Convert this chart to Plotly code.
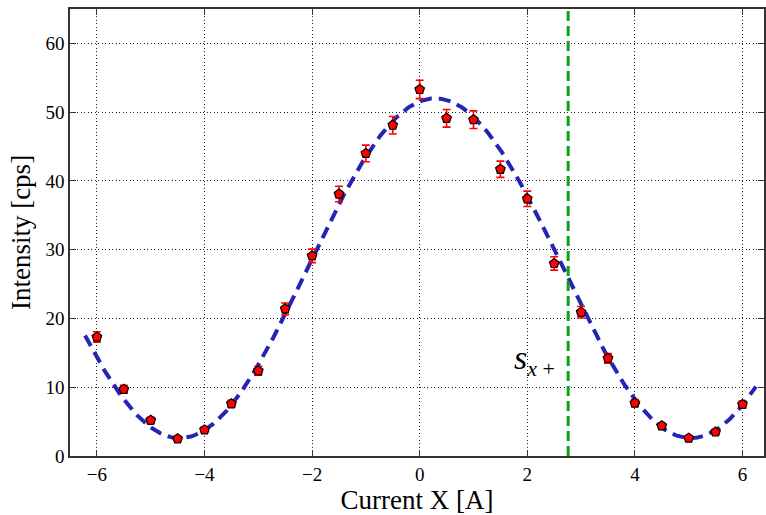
import numpy as np
import plotly.graph_objects as go

# Measured scan: coil current vs. count rate
current = [-6.0, -5.5, -5.0, -4.5, -4.0, -3.5, -3.0, -2.5, -2.0, -1.5, -1.0, -0.5,
           0.0, 0.5, 1.0, 1.5, 2.0, 2.5, 3.0, 3.5, 4.0, 4.5, 5.0, 5.5, 6.0]
intensity = [17.3, 9.7, 5.2, 2.5, 3.8, 7.6, 12.4, 21.4, 29.1, 38.1, 44.0, 48.1,
             53.3, 49.1, 48.9, 41.7, 37.4, 28.0, 20.9, 14.2, 7.7, 4.4, 2.6, 3.5, 7.5]
intensity_err = [0.76, 0.57, 0.42, 0.29, 0.36, 0.50, 0.64, 0.84, 0.98, 1.13, 1.21, 1.27,
                 1.33, 1.28, 1.28, 1.18, 1.12, 0.97, 0.83, 0.69, 0.51, 0.38, 0.29, 0.34, 0.50]

# Fitted cosine model: offset + amplitude * cos(2*pi*(x - x0)/period)
fit_offset = 27.3
fit_amplitude = 24.7
fit_x0 = 0.29
fit_period = 9.5

# Position of the s_{x+} marker line
s_x_plus = 2.76

x_tick_vals = [-6, -4, -2, 0, 2, 4, 6]
y_tick_vals = [0, 10, 20, 30, 40, 50, 60]

x_range = [-6.5, 6.4]
y_range = [0, 65]

x_fit = np.linspace(-6.22, 6.25, 400)
y_fit = fit_offset + fit_amplitude * np.cos(2 * np.pi * (x_fit - fit_x0) / fit_period)

SERIF = "Liberation Serif, Times New Roman, serif"

fig = go.Figure()

fig.add_trace(go.Scatter(
    x=x_fit, y=y_fit, mode="lines",
    line=dict(color="#2424b8", width=4, dash="12px,7px"),
    hoverinfo="skip", showlegend=False,
))

fig.add_trace(go.Scatter(
    x=[s_x_plus, s_x_plus], y=y_range, mode="lines",
    line=dict(color="#11a011", width=3, dash="10px,5px"),
    hoverinfo="skip", showlegend=False,
))

fig.add_trace(go.Scatter(
    x=current, y=intensity, mode="markers",
    marker=dict(symbol="pentagon", size=10, color="#ff0000",
                line=dict(color="black", width=1.2)),
    error_y=dict(type="data", array=intensity_err, visible=True,
                 color="#ff0000", thickness=1.6, width=4),
    showlegend=False,
))

fig.add_annotation(
    x=2.56, y=13.9, xref="x", yref="y",
    text="<i>s</i><sub><span style='font-size:22px'><i>x</i> +</span></sub>",
    showarrow=False, xanchor="right", yanchor="middle",
    font=dict(family=SERIF, size=34, color="black"),
)

axis_common = dict(
    showline=True, linecolor="#333333", linewidth=1.5, mirror="ticks",
    ticks="inside", ticklen=6, tickwidth=1.2, tickcolor="#333333",
    showgrid=True, gridcolor="#222222", gridwidth=1, griddash="1px,2.5px",
    zeroline=False, tickfont=dict(family=SERIF, size=19, color="black"),
)

fig.update_xaxes(
    range=x_range, tickvals=x_tick_vals,
    title=dict(text="Current X [A]", font=dict(family=SERIF, size=27, color="black"),
               standoff=6),
    **axis_common,
)
fig.update_yaxes(
    range=y_range, tickvals=y_tick_vals,
    title=dict(text="Intensity [cps]", font=dict(family=SERIF, size=27, color="black"),
               standoff=7),
    **axis_common,
)

fig.update_layout(
    width=766, height=515,
    margin=dict(l=70, r=0, t=9, b=59),
    paper_bgcolor="white", plot_bgcolor="white",
    showlegend=False,
)

fig.write_html("out.html")
